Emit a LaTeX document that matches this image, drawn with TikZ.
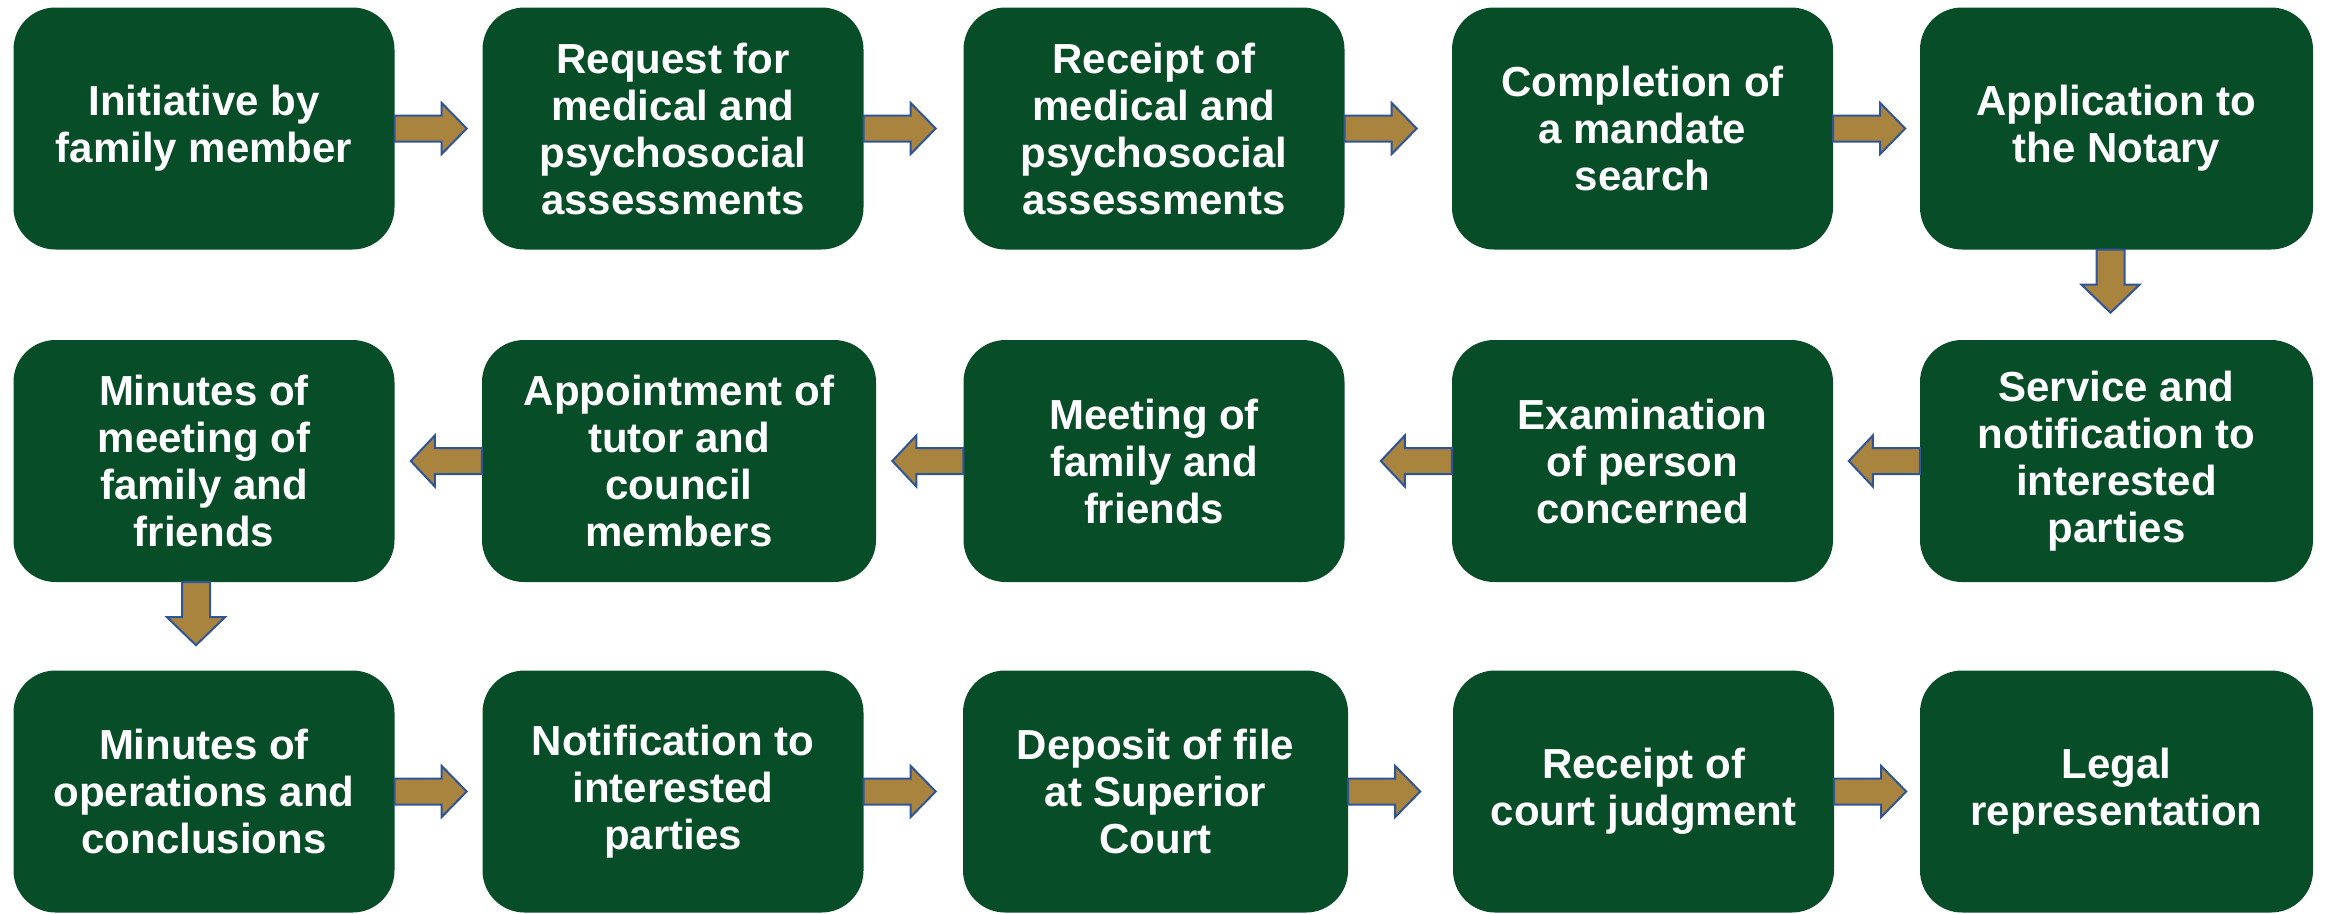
\documentclass[tikz,border=0pt]{standalone}
\usepackage{fontspec}
\setmainfont{Liberation Sans}
\usetikzlibrary{calc}
\definecolor{boxgreen}{HTML}{074D28}
\definecolor{arrowgold}{HTML}{A8843F}
\definecolor{arrowblue}{HTML}{2F5597}
\tikzset{
  stepbox/.style={fill=boxgreen, rounded corners=42pt, inner sep=0pt,
    minimum width=381pt, minimum height=242pt, align=center, text=white,
    font=\fontsize{42}{47}\selectfont\bfseries},
  barrow/.style={fill=arrowgold, draw=arrowblue, line width=2pt, line join=miter}
}
\newcommand{\rightblock}[1]{\draw[barrow, shift={(#1)}] (0,-13) -- (47,-13) -- (47,-25.5) -- (72,0) -- (47,25.5) -- (47,13) -- (0,13) -- cycle;}
\newcommand{\leftblock}[1]{\draw[barrow, shift={(#1)}] (0,-13) -- (-47,-13) -- (-47,-25.5) -- (-71,0) -- (-47,25.5) -- (-47,13) -- (0,13) -- cycle;}
\newcommand{\downblock}[1]{\draw[barrow, shift={(#1)}] (-14,0) -- (-14,35) -- (-29,35) -- (0,63) -- (29,35) -- (14,35) -- (14,0) -- cycle;}
\begin{document}
\begin{tikzpicture}[x=1pt,y=-1pt]
\useasboundingbox (0,0) rectangle (2328,913);
% row 1
\node[stepbox] (a1) at (204,128.5) {Initiative by\\family member};
\node[stepbox] (a2) at (673,128.5) {Request for\\medical and\\psychosocial\\assessments};
\node[stepbox] (a3) at (1154,128.5) {Receipt of\\medical and\\psychosocial\\assessments};
\node[stepbox] (a4) at (1642.5,128.5) {Completion of\\a mandate\\search};
\node[stepbox, minimum width=393pt] (a5) at (2116.5,128.5) {Application to\\the Notary};
% row 2
\node[stepbox] (b1) at (204,461) {Minutes of\\meeting of\\family and\\friends};
\node[stepbox, minimum width=394pt] (b2) at (679,461) {Appointment of\\tutor and\\council\\members};
\node[stepbox] (b3) at (1154,461) {Meeting of\\family and\\friends};
\node[stepbox] (b4) at (1642.5,461) {Examination\\of person\\concerned};
\node[stepbox, minimum width=393pt] (b5) at (2116.5,461) {Service and\\notification to\\interested\\parties};
% row 3
\node[stepbox] (c1) at (204,791.5) {Minutes of\\operations and\\conclusions};
\node[stepbox] (c2) at (673,791.5) {Notification to\\interested\\parties};
\node[stepbox, minimum width=385pt] (c3) at (1155.5,791.5) {Deposit of file\\at Superior\\Court};
\node[stepbox] (c4) at (1643.5,791.5) {Receipt of\\court judgment};
\node[stepbox, minimum width=393pt] (c5) at (2116.5,791.5) {Legal\\representation};
% arrows row 1
\rightblock{a1.east}
\rightblock{a2.east}
\rightblock{a3.east}
\rightblock{a4.east}
\downblock{$(a5.south)+(-6,0)$}
% arrows row 2
\leftblock{b5.west}
\leftblock{b4.west}
\leftblock{b3.west}
\leftblock{b2.west}
\downblock{$(b1.south)+(-8,0)$}
% arrows row 3
\rightblock{c1.east}
\rightblock{c2.east}
\rightblock{c3.east}
\rightblock{c4.east}
\end{tikzpicture}
\end{document}
